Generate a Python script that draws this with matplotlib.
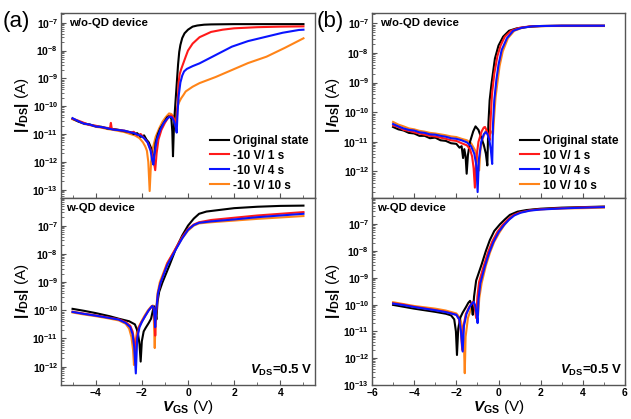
import numpy as np
import matplotlib
matplotlib.use("Agg")
import matplotlib.pyplot as plt
from matplotlib.ticker import LogLocator, MultipleLocator, NullFormatter

plt.rcParams['font.family'] = ['Liberation Sans', 'DejaVu Sans']
plt.rcParams['font.weight'] = 'bold'
plt.rcParams['mathtext.fontset'] = 'custom'
plt.rcParams['mathtext.rm'] = 'Liberation Sans:bold'
plt.rcParams['mathtext.it'] = 'Liberation Sans:bold:italic'
plt.rcParams['mathtext.bf'] = 'Liberation Sans:bold'

# ---- data: (V_GS, log10|I_DS|) ----
a_top_orig = [(-5.0,-10.45),(-4.75,-10.55),(-4.5,-10.62),(-4.25,-10.66),(-4.0,-10.72),(-3.75,-10.74),(-3.5,-10.8),(-3.25,-10.82),(-3.0,-10.85),(-2.75,-10.9),(-2.5,-10.93),(-2.35,-11.0),(-2.2,-10.97),(-2.05,-11.1),(-1.9,-11.05),(-1.8,-11.2),(-1.7,-11.3),(-1.6,-11.5),(-1.55,-11.75),(-1.5,-12.0),(-1.45,-11.7),(-1.4,-11.3),(-1.3,-11.0),(-1.2,-10.8),(-1.05,-10.6),(-0.9,-10.4),(-0.8,-10.35),(-0.72,-10.45),(-0.68,-10.9),(-0.65,-11.8),(-0.62,-11.0),(-0.58,-10.3),(-0.53,-9.7),(-0.48,-9.1),(-0.43,-8.5),(-0.38,-8.05),(-0.33,-7.8),(-0.25,-7.55),(-0.15,-7.38),(0.0,-7.25),(0.2,-7.14),(0.4,-7.1),(0.7,-7.07),(1.0,-7.06),(2.0,-7.05),(3.0,-7.05),(4.0,-7.05),(5.0,-7.05)]
a_top_1s = [(-5.0,-10.45),(-4.75,-10.52),(-4.5,-10.6),(-4.25,-10.68),(-4.0,-10.7),(-3.75,-10.76),(-3.5,-10.78),(-3.38,-10.8),(-3.34,-10.6),(-3.3,-10.82),(-3.0,-10.86),(-2.75,-10.88),(-2.5,-10.95),(-2.35,-10.92),(-2.2,-11.05),(-2.05,-11.0),(-1.9,-11.15),(-1.75,-11.3),(-1.6,-11.6),(-1.5,-11.9),(-1.42,-12.3),(-1.36,-11.7),(-1.28,-11.2),(-1.15,-10.85),(-1.0,-10.6),(-0.85,-10.4),(-0.75,-10.33),(-0.65,-10.38),(-0.58,-10.5),(-0.52,-10.8),(-0.47,-10.3),(-0.43,-9.6),(-0.4,-9.1),(-0.36,-8.85),(-0.3,-8.68),(-0.2,-8.45),(-0.1,-8.22),(0.0,-8.0),(0.2,-7.75),(0.5,-7.52),(1.0,-7.33),(1.5,-7.25),(2.0,-7.2),(3.0,-7.16),(4.0,-7.14),(5.0,-7.13)]
a_top_4s = [(-5.0,-10.43),(-4.75,-10.54),(-4.5,-10.63),(-4.25,-10.66),(-4.0,-10.73),(-3.75,-10.75),(-3.5,-10.79),(-3.25,-10.84),(-3.0,-10.86),(-2.75,-10.88),(-2.5,-10.94),(-2.35,-10.96),(-2.2,-11.02),(-2.05,-11.06),(-1.9,-11.15),(-1.75,-11.3),(-1.62,-11.6),(-1.55,-11.95),(-1.5,-12.1),(-1.45,-11.7),(-1.35,-11.2),(-1.2,-10.85),(-1.05,-10.6),(-0.9,-10.45),(-0.8,-10.38),(-0.7,-10.4),(-0.6,-10.55),(-0.53,-10.75),(-0.49,-10.95),(-0.45,-10.2),(-0.4,-9.6),(-0.33,-9.15),(-0.25,-8.9),(-0.17,-8.75),(-0.05,-8.66),(0.2,-8.56),(0.5,-8.46),(1.2,-8.16),(1.9,-7.86),(2.6,-7.66),(3.4,-7.5),(4.1,-7.36),(4.8,-7.26),(5.0,-7.25)]
a_top_10s = [(-5.0,-10.47),(-4.75,-10.55),(-4.5,-10.64),(-4.25,-10.67),(-4.0,-10.74),(-3.75,-10.77),(-3.5,-10.82),(-3.25,-10.85),(-3.0,-10.89),(-2.75,-10.93),(-2.5,-11.0),(-2.3,-11.05),(-2.1,-11.15),(-1.95,-11.3),(-1.85,-11.45),(-1.78,-11.6),(-1.72,-12.0),(-1.66,-13.05),(-1.6,-12.0),(-1.52,-11.5),(-1.4,-11.1),(-1.25,-10.8),(-1.1,-10.55),(-0.95,-10.38),(-0.82,-10.26),(-0.72,-10.28),(-0.62,-10.38),(-0.55,-10.55),(-0.5,-10.2),(-0.45,-10.0),(-0.38,-9.85),(-0.3,-9.72),(-0.2,-9.6),(-0.1,-9.47),(0.2,-9.3),(0.5,-9.17),(1.2,-8.95),(1.9,-8.7),(2.6,-8.45),(3.4,-8.22),(4.2,-7.9),(5.0,-7.56)]

a_bot_orig = [(-5.0,-9.95),(-4.5,-10.02),(-4.0,-10.1),(-3.4,-10.21),(-3.0,-10.3),(-2.55,-10.39),(-2.3,-10.5),(-2.18,-10.75),(-2.1,-11.2),(-2.05,-11.82),(-2.0,-11.1),(-1.92,-10.75),(-1.83,-10.62),(-1.7,-10.45),(-1.6,-10.3),(-1.52,-10.0),(-1.46,-9.86),(-1.41,-10.0),(-1.37,-10.33),(-1.32,-9.7),(-1.25,-9.35),(-1.11,-9.02),(-0.8,-8.4),(-0.53,-7.83),(-0.25,-7.35),(0.0,-7.0),(0.25,-6.75),(0.48,-6.58),(0.8,-6.5),(1.2,-6.46),(2.0,-6.38),(3.0,-6.33),(4.0,-6.3),(5.0,-6.29)]
a_bot_1s = [(-5.0,-10.05),(-4.5,-10.12),(-4.0,-10.18),(-3.5,-10.25),(-3.0,-10.32),(-2.7,-10.42),(-2.5,-10.55),(-2.4,-10.75),(-2.33,-11.1),(-2.28,-11.55),(-2.22,-11.0),(-2.12,-10.6),(-2.0,-10.4),(-1.85,-10.2),(-1.7,-10.0),(-1.55,-9.85),(-1.49,-9.9),(-1.45,-10.3),(-1.42,-10.9),(-1.39,-10.2),(-1.3,-9.4),(-1.2,-9.05),(-0.9,-8.35),(-0.53,-7.8),(-0.25,-7.4),(0.0,-7.12),(0.25,-6.96),(0.48,-6.88),(1.0,-6.8),(2.0,-6.72),(3.0,-6.64),(4.0,-6.58),(5.0,-6.52)]
a_bot_4s = [(-5.0,-10.06),(-4.5,-10.13),(-4.0,-10.19),(-3.5,-10.26),(-3.0,-10.33),(-2.7,-10.45),(-2.5,-10.6),(-2.4,-10.85),(-2.33,-11.3),(-2.26,-12.24),(-2.2,-11.0),(-2.1,-10.6),(-2.0,-10.42),(-1.85,-10.2),(-1.7,-10.0),(-1.55,-9.85),(-1.49,-9.9),(-1.45,-10.2),(-1.42,-10.6),(-1.39,-10.1),(-1.3,-9.4),(-1.2,-9.05),(-0.9,-8.4),(-0.53,-7.85),(-0.25,-7.45),(0.0,-7.15),(0.25,-6.98),(0.48,-6.9),(1.0,-6.85),(2.0,-6.78),(3.0,-6.7),(4.0,-6.64),(5.0,-6.58)]
a_bot_10s = [(-5.0,-10.08),(-4.5,-10.15),(-4.0,-10.21),(-3.5,-10.28),(-3.0,-10.36),(-2.7,-10.48),(-2.55,-10.65),(-2.45,-10.95),(-2.38,-11.4),(-2.34,-11.94),(-2.29,-11.2),(-2.2,-10.7),(-2.05,-10.45),(-1.9,-10.22),(-1.75,-10.02),(-1.6,-9.87),(-1.52,-9.83),(-1.48,-10.3),(-1.44,-11.34),(-1.4,-10.2),(-1.32,-9.4),(-1.22,-9.0),(-0.9,-8.32),(-0.53,-7.82),(-0.25,-7.45),(0.0,-7.18),(0.25,-7.0),(0.48,-6.92),(1.0,-6.88),(2.0,-6.82),(3.0,-6.76),(4.0,-6.71),(5.0,-6.66)]

b_top_orig = [(-5.0,-10.5),(-4.75,-10.58),(-4.5,-10.62),(-4.25,-10.7),(-4.0,-10.72),(-3.75,-10.8),(-3.5,-10.8),(-3.25,-10.88),(-3.0,-10.86),(-2.75,-10.95),(-2.5,-10.97),(-2.25,-11.05),(-2.0,-11.07),(-1.85,-11.2),(-1.75,-11.15),(-1.68,-11.55),(-1.62,-11.25),(-1.56,-11.5),(-1.51,-12.08),(-1.45,-11.45),(-1.35,-11.0),(-1.2,-10.65),(-1.09,-10.48),(-0.95,-10.6),(-0.8,-10.9),(-0.7,-11.1),(-0.6,-11.4),(-0.53,-11.8),(-0.48,-10.4),(-0.42,-9.6),(-0.33,-9.03),(-0.17,-8.19),(0.0,-7.75),(0.22,-7.45),(0.5,-7.25),(0.86,-7.17),(1.5,-7.11),(2.0,-7.09),(3.0,-7.08),(5.0,-7.08)]
b_top_1s = [(-5.0,-10.45),(-4.75,-10.5),(-4.5,-10.6),(-4.25,-10.63),(-4.0,-10.68),(-3.75,-10.72),(-3.5,-10.76),(-3.25,-10.8),(-3.0,-10.82),(-2.75,-10.86),(-2.5,-10.9),(-2.25,-10.95),(-2.0,-10.97),(-1.75,-11.05),(-1.5,-11.12),(-1.35,-11.25),(-1.25,-11.5),(-1.18,-11.9),(-1.12,-12.55),(-1.06,-11.6),(-0.95,-11.0),(-0.8,-10.65),(-0.7,-10.52),(-0.64,-10.5),(-0.56,-10.62),(-0.48,-10.8),(-0.42,-10.95),(-0.37,-10.2),(-0.31,-9.4),(-0.2,-8.7),(-0.05,-8.1),(0.1,-7.75),(0.3,-7.45),(0.6,-7.25),(1.0,-7.15),(1.5,-7.1),(2.0,-7.09),(3.0,-7.08),(5.0,-7.08)]
b_top_4s = [(-5.0,-10.4),(-4.75,-10.48),(-4.5,-10.55),(-4.25,-10.6),(-4.0,-10.62),(-3.75,-10.68),(-3.5,-10.7),(-3.25,-10.75),(-3.0,-10.76),(-2.75,-10.8),(-2.5,-10.83),(-2.25,-10.88),(-2.0,-10.9),(-1.75,-10.95),(-1.5,-11.02),(-1.3,-11.15),(-1.15,-11.4),(-1.05,-11.8),(-0.99,-12.7),(-0.93,-11.6),(-0.82,-11.0),(-0.7,-10.75),(-0.6,-10.67),(-0.52,-10.75),(-0.43,-10.95),(-0.36,-11.3),(-0.3,-11.75),(-0.26,-10.4),(-0.2,-9.6),(-0.1,-8.9),(0.0,-8.4),(0.15,-7.9),(0.4,-7.5),(0.7,-7.25),(1.1,-7.15),(1.6,-7.1),(2.0,-7.09),(3.0,-7.08),(5.0,-7.08)]
b_top_10s = [(-5.0,-10.33),(-4.75,-10.42),(-4.5,-10.48),(-4.25,-10.55),(-4.0,-10.58),(-3.75,-10.63),(-3.5,-10.66),(-3.25,-10.7),(-3.0,-10.72),(-2.75,-10.75),(-2.5,-10.78),(-2.25,-10.82),(-2.0,-10.84),(-1.75,-10.9),(-1.5,-10.95),(-1.3,-11.05),(-1.1,-11.3),(-0.98,-11.6),(-0.92,-11.97),(-0.86,-11.3),(-0.75,-10.9),(-0.62,-10.65),(-0.5,-10.6),(-0.4,-10.62),(-0.32,-10.68),(-0.26,-10.75),(-0.21,-10.2),(-0.14,-9.5),(-0.05,-9.0),(0.05,-8.45),(0.2,-7.95),(0.45,-7.5),(0.75,-7.25),(1.2,-7.13),(1.8,-7.1),(2.5,-7.09),(5.0,-7.09)]

b_bot_orig = [(-5.0,-10.01),(-4.5,-10.08),(-4.0,-10.15),(-3.5,-10.21),(-3.0,-10.27),(-2.5,-10.34),(-2.25,-10.4),(-2.1,-10.55),(-2.02,-11.0),(-1.97,-11.88),(-1.91,-10.9),(-1.82,-10.5),(-1.7,-10.3),(-1.55,-10.1),(-1.43,-9.93),(-1.35,-9.86),(-1.28,-10.0),(-1.22,-10.38),(-1.16,-9.7),(-1.06,-9.1),(-0.8,-8.5),(-0.6,-8.0),(-0.41,-7.59),(-0.2,-7.25),(0.07,-7.0),(0.3,-6.82),(0.54,-6.65),(0.9,-6.53),(1.33,-6.47),(2.0,-6.42),(3.0,-6.38),(4.0,-6.36),(5.0,-6.34)]
b_bot_1s = [(-5.0,-9.95),(-4.5,-10.0),(-4.0,-10.08),(-3.5,-10.14),(-3.0,-10.2),(-2.5,-10.27),(-2.0,-10.38),(-1.87,-10.55),(-1.79,-10.95),(-1.72,-11.69),(-1.66,-10.8),(-1.55,-10.35),(-1.4,-10.1),(-1.28,-9.95),(-1.2,-9.89),(-1.13,-10.1),(-1.06,-10.5),(-1.0,-9.7),(-0.92,-9.15),(-0.7,-8.55),(-0.5,-8.05),(-0.3,-7.65),(-0.05,-7.28),(0.2,-7.02),(0.45,-6.82),(0.7,-6.66),(1.0,-6.56),(1.5,-6.48),(2.0,-6.44),(3.0,-6.4),(4.0,-6.37),(5.0,-6.35)]
b_bot_4s = [(-5.0,-9.96),(-4.5,-10.02),(-4.0,-10.09),(-3.5,-10.15),(-3.0,-10.21),(-2.5,-10.28),(-2.0,-10.38),(-1.86,-10.55),(-1.78,-11.0),(-1.7,-11.75),(-1.64,-10.8),(-1.52,-10.35),(-1.38,-10.1),(-1.25,-9.95),(-1.17,-9.9),(-1.1,-10.05),(-1.03,-10.4),(-0.99,-10.69),(-0.95,-9.8),(-0.86,-9.2),(-0.65,-8.58),(-0.45,-8.08),(-0.25,-7.68),(0.0,-7.3),(0.25,-7.04),(0.5,-6.83),(0.75,-6.67),(1.05,-6.57),(1.5,-6.49),(2.0,-6.45),(3.0,-6.41),(4.0,-6.38),(5.0,-6.36)]
b_bot_10s = [(-5.0,-9.91),(-4.5,-9.98),(-4.0,-10.05),(-3.5,-10.1),(-3.0,-10.15),(-2.5,-10.22),(-2.0,-10.33),(-1.82,-10.5),(-1.7,-10.9),(-1.64,-11.5),(-1.6,-12.56),(-1.56,-11.2),(-1.45,-10.5),(-1.3,-10.15),(-1.15,-9.98),(-1.07,-10.05),(-1.01,-10.25),(-0.97,-10.4),(-0.91,-9.75),(-0.8,-9.2),(-0.6,-8.55),(-0.4,-8.05),(-0.2,-7.65),(0.05,-7.3),(0.3,-7.0),(0.55,-6.78),(0.8,-6.62),(1.1,-6.53),(1.6,-6.46),(2.0,-6.44),(3.0,-6.41),(4.0,-6.4),(5.0,-6.38)]

labels_a = ['Original state', '-10 V/ 1 s', '-10 V/ 4 s', '-10 V/ 10 s']
labels_b = ['Original state', '10 V/ 1 s', '10 V/ 4 s', '10 V/ 10 s']
colors = ['black', '#ff1a1a', '#0a14ff', '#ff8418']
zorders = [3, 4, 5, 2]

fig = plt.figure(figsize=(6.31, 4.19), dpi=100)
ax_a1 = fig.add_axes([61/631, 1-198/419, 254/631, 185/419])
ax_a2 = fig.add_axes([61/631, 1-385/419, 254/631, 187/419])
ax_b1 = fig.add_axes([372/631, 1-198/419, 253/631, 185/419])
ax_b2 = fig.add_axes([372/631, 1-385/419, 253/631, 187/419])

panels = [
    (ax_a1, [a_top_orig, a_top_1s, a_top_4s, a_top_10s], labels_a, (-6.65, -13.3), (-5.5, 5.5)),
    (ax_a2, [a_bot_orig, a_bot_1s, a_bot_4s, a_bot_10s], labels_a, (-6.02, -12.65), (-5.5, 5.5)),
    (ax_b1, [b_top_orig, b_top_1s, b_top_4s, b_top_10s], labels_b, (-6.65, -12.9), (-6, 6)),
    (ax_b2, [b_bot_orig, b_bot_1s, b_bot_4s, b_bot_10s], labels_b, (-6.02, -13.0), (-6, 6)),
]

spine_col = '#555555'
for i, (ax, series, labels, ylim, xlim) in enumerate(panels):
    handles = []
    for s, lab, c, z in zip(series, labels, colors, zorders):
        arr = np.array(s).T
        h, = ax.semilogy(arr[0], 10.0 ** arr[1], color=c, lw=1.5, label=lab, zorder=z)
        handles.append(h)
    ax.set_ylim(10 ** ylim[1], 10 ** ylim[0])
    ax.set_xlim(*xlim)
    ax.yaxis.set_major_locator(LogLocator(base=10, numticks=20))
    ax.yaxis.set_minor_locator(LogLocator(base=10, subs=np.arange(2, 10), numticks=20))
    ax.yaxis.set_minor_formatter(NullFormatter())
    ax.xaxis.set_major_locator(MultipleLocator(2))
    ax.xaxis.set_minor_locator(MultipleLocator(1))
    ax.tick_params(which='both', direction='in', top=False, right=False, colors=spine_col,
                   labelcolor='black', labelsize=7.5, pad=2)
    ax.tick_params(which='major', length=3.5, width=0.8)
    ax.tick_params(which='minor', length=2, width=0.6)
    for sp in ax.spines.values():
        sp.set_color(spine_col)
        sp.set_linewidth(1.0)
    ax.set_ylabel(r'$|\,I_{\rm DS}|$ (A)', fontsize=11, labelpad=1)
    if i in (0, 2):
        ax.tick_params(axis='x', labelbottom=False)
        ax.text(0.03, 0.975, 'w/o-QD device', transform=ax.transAxes, fontsize=8.2,
                fontweight='bold', va='top', ha='left')
        ax.legend(handles=handles, loc='lower right', frameon=False, fontsize=8.5,
                  handlelength=1.6, handletextpad=0.35, labelspacing=0.25,
                  borderaxespad=0.15)
    else:
        ax.text(0.02, 0.975, 'w-QD device', transform=ax.transAxes, fontsize=8.2,
                fontweight='bold', va='top', ha='left')
        ax.text(0.99, 0.04, r'$V_{\rm DS}$=0.5 V', transform=ax.transAxes, fontsize=9.5,
                fontweight='bold', va='bottom', ha='right')
        ax.set_xlabel(r'$V_{\rm GS}$ (V)', fontsize=11, labelpad=0)

fig.text(3/631, 1-22/419, '(a)', fontsize=16, fontweight='normal', va='center', ha='left')
fig.text(317/631, 1-22/419, '(b)', fontsize=16, fontweight='normal', va='center', ha='left')

fig.savefig('out.png', dpi=100)
